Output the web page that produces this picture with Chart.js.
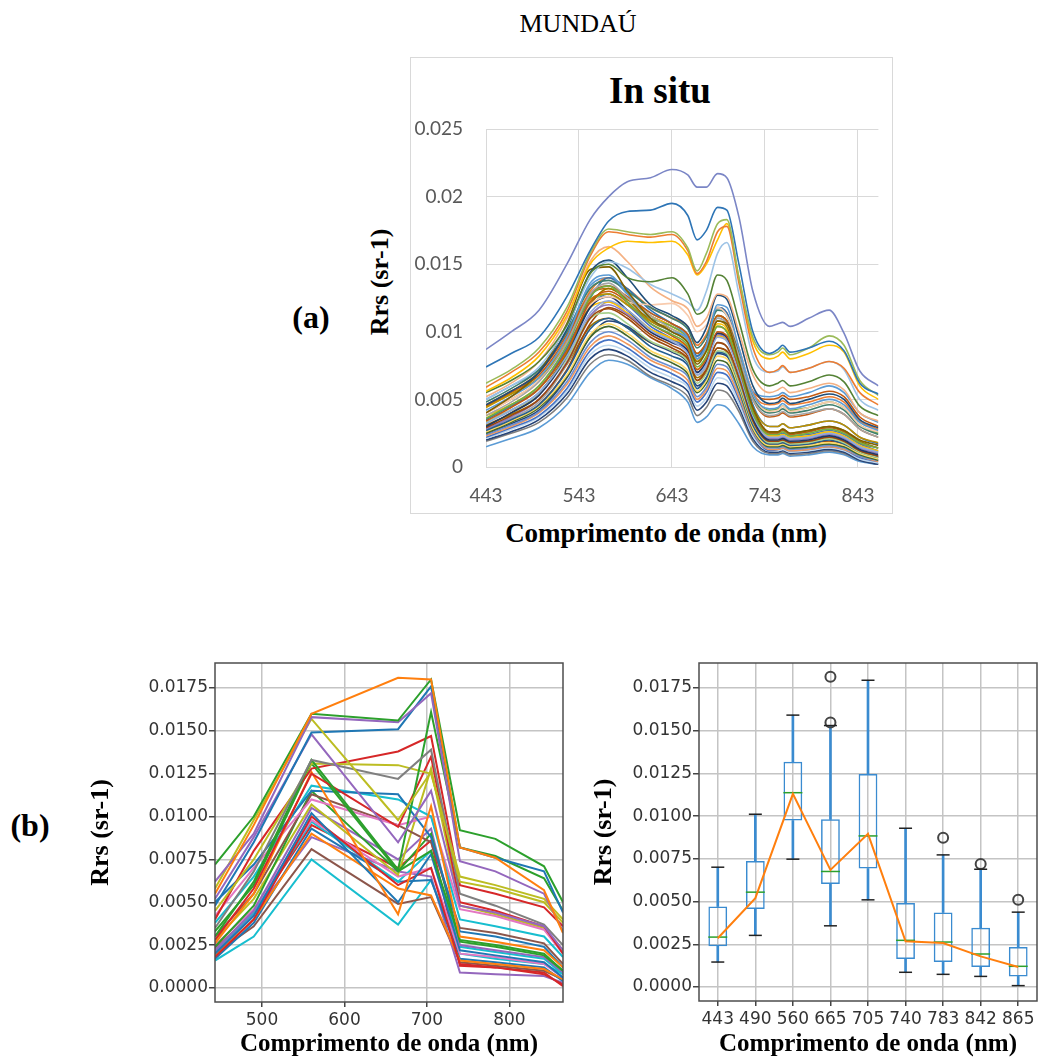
<!DOCTYPE html>
<html>
<head>
<meta charset="utf-8">
<title>MUNDAÚ - Rrs</title>
<script src="https://cdn.jsdelivr.net/npm/chart.js@4.4.1/dist/chart.umd.min.js"></script>
<style>
  html, body { margin: 0; padding: 0; background: #fff; }
  body { width: 1048px; height: 1063px; position: relative; overflow: hidden;
         font-family: 'Liberation Serif', 'Times New Roman', serif; }
  .txt { position: absolute; white-space: nowrap; color: #000; line-height: 1; }
  .bold { font-weight: bold; }
  .ctr { transform: translate(-50%, -50%); }
  .rot { transform: translate(-50%, -50%) rotate(-90deg); }
  canvas { position: absolute; }
  #boxA { position: absolute; left: 410px; top: 57px; width: 483px; height: 457px;
          border: 1px solid #d9d9d9; box-sizing: border-box; }
</style>
</head>
<body>
<div class="txt ctr" style="left:578px; top:24px; font-size:26px;">MUNDAÚ</div>

<div id="boxA"></div>
<div class="txt ctr bold" style="left:660px; top:90px; font-size:37px;">In situ</div>
<div class="txt ctr bold" style="left:311px; top:317px; font-size:32px;">(a)</div>
<div class="txt rot bold" style="left:380px; top:282px; font-size:26px;">Rrs (sr-1)</div>
<div class="txt ctr bold" style="left:666px; top:533px; font-size:27px;">Comprimento de onda (nm)</div>
<canvas id="chartA" width="481" height="455" style="left:411px; top:58px;"></canvas>

<div class="txt ctr bold" style="left:30px; top:825px; font-size:32px;">(b)</div>
<canvas id="chartB1" width="484" height="423" style="left:86px; top:640px;"></canvas>
<canvas id="chartB2" width="459" height="423" style="left:589px; top:640px;"></canvas>

<script>
// ---------- (a) In situ spectra, values in 1e-4 sr-1 ----------
const insituWl = [443, 470, 500, 530, 555, 575, 595, 620, 643, 660, 670, 680, 692, 702, 715, 730, 748, 757, 762, 770, 790, 812, 828, 845, 865];
const insituXTicks = [443, 543, 643, 743, 843];
const insituYTicks = [0, 0.005, 0.01, 0.015, 0.02, 0.025];

const insituSeries = [
  [87, 100, 116, 150, 183, 200, 211, 214, 220, 216, 207, 207, 217, 214, 185, 130, 104, 106, 107, 104, 110, 116, 99, 71, 60],
  [74, 84, 96, 126, 160, 182, 189, 190, 195, 186, 168, 175, 192, 190, 150, 100, 84, 87, 90, 85, 88, 93, 86, 62, 54],
  [62, 72, 88, 118, 158, 176, 174, 172, 174, 162, 145, 158, 180, 183, 140, 96, 83, 85, 88, 83, 88, 97, 90, 64, 53],
  [59, 70, 85, 115, 156, 174, 172, 170, 172, 160, 143, 152, 174, 178, 136, 88, 70, 72, 75, 70, 73, 78, 73, 55, 46],
  [56, 66, 82, 112, 150, 162, 167, 166, 167, 157, 142, 150, 168, 180, 140, 93, 80, 82, 85, 80, 84, 90, 85, 60, 50],
  [55, 64, 78, 105, 143, 150, 140, 137, 140, 128, 113, 118, 142, 138, 108, 72, 60, 62, 64, 60, 63, 68, 63, 45, 38],
  [50, 60, 74, 104, 140, 152, 147, 135, 128, 122, 116, 130, 158, 166, 128, 82, 70, 71, 74, 70, 73, 78, 72, 50, 42],
  [52, 62, 78, 110, 152, 163, 152, 133, 123, 117, 104, 110, 128, 126, 100, 68, 55, 57, 59, 55, 58, 62, 57, 40, 34],
  [46, 56, 70, 102, 144, 153, 140, 120, 112, 104, 92, 103, 127, 124, 96, 60, 47, 48, 51, 47, 50, 54, 50, 35, 29],
  [40, 52, 70, 106, 146, 148, 130, 110, 100, 92, 76, 86, 108, 106, 78, 44, 26, 26, 28, 25, 27, 30, 27, 20, 16],
  [42, 52, 66, 96, 136, 142, 128, 110, 100, 95, 80, 90, 120, 118, 88, 54, 43, 44, 47, 43, 46, 50, 46, 33, 27],
  [38, 48, 63, 92, 128, 136, 125, 112, 102, 94, 80, 88, 110, 106, 82, 50, 38, 39, 41, 38, 40, 43, 39, 28, 22],
  [36, 46, 60, 90, 126, 134, 122, 106, 98, 90, 74, 82, 104, 100, 75, 40, 24, 24, 26, 23, 25, 28, 25, 18, 14],
  [34, 44, 58, 86, 122, 130, 122, 106, 97, 88, 72, 80, 100, 97, 73, 40, 25, 25, 27, 24, 26, 29, 26, 18, 14],
  [44, 54, 66, 92, 124, 128, 120, 108, 102, 94, 80, 86, 104, 100, 76, 44, 30, 30, 32, 29, 31, 34, 31, 22, 18],
  [32, 42, 55, 82, 114, 123, 116, 101, 93, 84, 68, 76, 96, 93, 70, 38, 22, 22, 23, 21, 22, 25, 22, 15, 11],
  [40, 50, 64, 92, 120, 126, 122, 120, 121, 112, 100, 105, 118, 112, 88, 54, 41, 42, 45, 41, 44, 48, 44, 31, 26],
  [30, 40, 53, 82, 118, 126, 116, 100, 92, 86, 70, 78, 99, 96, 70, 36, 20, 20, 21, 19, 20, 23, 20, 13, 9],
  [29, 38, 50, 77, 110, 117, 110, 96, 88, 80, 64, 72, 92, 89, 66, 34, 19, 19, 20, 18, 19, 22, 19, 12, 8],
  [33, 42, 54, 80, 110, 114, 106, 93, 86, 78, 62, 69, 86, 84, 62, 33, 18, 18, 19, 17, 18, 21, 18, 11, 7],
  [27, 35, 46, 71, 102, 110, 103, 89, 82, 75, 58, 66, 85, 83, 61, 31, 17, 17, 18, 16, 17, 20, 17, 11, 7],
  [26, 34, 45, 68, 98, 106, 99, 86, 79, 71, 56, 64, 82, 80, 59, 29, 16, 16, 17, 15, 16, 18, 16, 10, 6],
  [25, 33, 44, 67, 96, 104, 97, 84, 77, 69, 55, 62, 79, 77, 57, 28, 15, 15, 16, 14, 15, 17, 15, 9, 5],
  [24, 31, 41, 63, 92, 100, 94, 81, 74, 67, 52, 59, 76, 74, 55, 27, 14, 14, 15, 13, 14, 16, 14, 8, 5],
  [23, 30, 40, 61, 89, 97, 91, 79, 72, 64, 50, 57, 73, 71, 52, 26, 13, 13, 14, 12, 13, 15, 13, 8, 4],
  [22, 29, 38, 58, 86, 94, 88, 76, 69, 61, 48, 55, 70, 68, 50, 25, 12, 13, 14, 12, 13, 15, 13, 7, 4],
  [21, 28, 37, 56, 83, 90, 85, 73, 66, 59, 45, 51, 66, 64, 47, 23, 12, 12, 13, 11, 12, 14, 12, 6, 3],
  [20, 26, 35, 54, 80, 87, 82, 70, 63, 56, 42, 48, 62, 60, 44, 21, 11, 11, 12, 10, 11, 13, 11, 5, 2],
  [19, 25, 33, 51, 76, 83, 79, 67, 60, 52, 38, 44, 57, 55, 41, 19, 10, 10, 11, 9, 10, 12, 10, 5, 2],
  [15, 21, 29, 46, 70, 79, 76, 66, 58, 48, 33, 37, 46, 44, 32, 15, 9, 9, 10, 8, 9, 11, 9, 4, 2],
  [48, 58, 72, 100, 132, 138, 130, 118, 110, 102, 88, 96, 116, 112, 86, 52, 40, 41, 43, 40, 42, 46, 42, 30, 24],
  [45, 55, 68, 96, 128, 134, 126, 114, 106, 98, 84, 92, 112, 108, 84, 50, 37, 38, 40, 37, 39, 43, 39, 28, 22],
  [35, 45, 58, 88, 125, 140, 132, 116, 106, 98, 82, 92, 118, 114, 84, 46, 30, 30, 32, 29, 31, 34, 31, 22, 17],
  [30, 40, 54, 84, 120, 132, 124, 108, 100, 92, 78, 86, 108, 104, 78, 42, 26, 26, 28, 25, 27, 30, 27, 19, 14],
  [28, 37, 50, 78, 112, 120, 113, 100, 92, 85, 70, 78, 98, 95, 70, 36, 21, 21, 22, 20, 21, 24, 21, 14, 10],
  [36, 46, 60, 88, 118, 122, 114, 102, 95, 88, 72, 80, 97, 94, 70, 38, 22, 22, 23, 21, 22, 25, 22, 15, 11],
  [40, 50, 64, 94, 130, 140, 132, 118, 110, 104, 90, 98, 118, 114, 88, 55, 46, 47, 49, 46, 48, 52, 48, 34, 28],
  [50, 60, 72, 100, 134, 140, 128, 114, 106, 96, 82, 90, 110, 106, 82, 56, 52, 53, 55, 52, 55, 60, 55, 40, 33],
  [45, 54, 66, 92, 122, 128, 120, 110, 104, 96, 84, 92, 112, 108, 84, 54, 42, 43, 45, 42, 44, 48, 44, 31, 25],
  [38, 46, 58, 86, 120, 132, 126, 112, 104, 95, 78, 86, 106, 102, 76, 40, 23, 23, 24, 22, 23, 26, 23, 16, 12],
  [33, 42, 55, 84, 118, 128, 120, 104, 95, 86, 70, 78, 98, 95, 71, 38, 24, 24, 25, 23, 24, 27, 24, 17, 12],
  [28, 36, 48, 76, 110, 122, 116, 102, 94, 86, 68, 74, 92, 89, 66, 33, 18, 18, 19, 17, 18, 21, 18, 12, 8],
  [26, 34, 46, 72, 106, 118, 112, 98, 90, 82, 64, 70, 88, 86, 63, 31, 17, 17, 18, 16, 17, 19, 17, 11, 7],
  [24, 32, 42, 66, 96, 108, 104, 92, 85, 77, 60, 66, 84, 82, 60, 29, 15, 15, 16, 14, 15, 17, 15, 9, 5],
  [31, 39, 50, 76, 104, 110, 103, 92, 86, 80, 66, 72, 88, 85, 63, 33, 19, 19, 20, 18, 19, 22, 19, 12, 8],
  [46, 56, 70, 98, 128, 132, 124, 112, 104, 96, 82, 90, 112, 108, 84, 56, 50, 51, 53, 50, 52, 56, 52, 37, 30]
];
const insituColors = [
  '#7b86c6', '#2e75b6', '#9bbb59', '#ed7d31', '#ffc000', '#548235', '#9dc3e6', '#f4b183', '#1f4e79', '#7f6000',
  '#5b9bd5', '#a5a5a5', '#70ad47', '#c55a11', '#bf9000', '#8faadc', '#f8cbad', '#203864', '#9e480e', '#a9d18e',
  '#255e91', '#ffd966', '#43682b', '#698ed0', '#f1975a', '#4472c4', '#bdd7ee', '#264478', '#7f7f7f', '#5b9bd5',
  '#3f7f6e', '#c55a11', '#2e75b6', '#997300', '#8e7cc3', '#ffc000', '#ed7d31', '#5b9bd5', '#70ad47', '#ffc000',
  '#4472c4', '#a5a5a5', '#9e480e', '#264478', '#997300', '#c55a11'
];

// ---------- (b) MSI bands, values in 1e-4 sr-1 ----------
const msiBands = [443, 490, 560, 665, 705, 740, 783, 842, 865];
const msiXTicks = [500, 600, 700, 800];
const msiYTicks = [0, 0.0025, 0.005, 0.0075, 0.01, 0.0125, 0.015, 0.0175];

const msiSeries = [
  [55, 95, 160, 181, 180, 82, 76, 57, 32],
  [72, 100, 160, 156, 180, 92, 87, 71, 50],
  [62, 90, 158, 155, 172, 74, 68, 55, 33],
  [58, 98, 157, 98, 126, 62, 58, 50, 38],
  [48, 85, 149, 151, 176, 82, 76, 68, 44],
  [52, 88, 148, 85, 115, 48, 44, 36, 22],
  [35, 68, 133, 122, 139, 55, 48, 37, 25],
  [30, 62, 133, 69, 161, 82, 77, 64, 45],
  [45, 75, 131, 130, 125, 65, 60, 52, 40],
  [40, 80, 128, 138, 147, 60, 55, 47, 36],
  [28, 58, 125, 94, 135, 50, 45, 36, 20],
  [26, 55, 126, 43, 106, 30, 27, 22, 12],
  [33, 60, 131, 68, 80, 28, 25, 20, 10],
  [50, 72, 115, 113, 88, 33, 30, 24, 12],
  [38, 65, 118, 110, 100, 40, 36, 30, 18],
  [42, 70, 110, 95, 100, 46, 42, 34, 20],
  [30, 55, 113, 95, 85, 35, 32, 26, 14],
  [24, 48, 115, 68, 90, 27, 24, 19, 10],
  [28, 52, 107, 66, 128, 48, 43, 35, 22],
  [22, 45, 105, 75, 93, 25, 22, 18, 9],
  [20, 42, 102, 50, 78, 22, 19, 15, 6],
  [18, 40, 100, 60, 70, 14, 12, 8, 2],
  [25, 46, 98, 65, 70, 20, 18, 14, 6],
  [22, 44, 97, 62, 80, 24, 21, 17, 8],
  [19, 40, 90, 58, 54, 16, 14, 11, 5],
  [17, 38, 93, 62, 63, 17, 15, 12, 4],
  [21, 43, 88, 68, 65, 9, 8, 7, 3],
  [20, 36, 81, 49, 53, 15, 13, 10, 5],
  [16, 30, 75, 37, 63, 20, 17, 14, 8],
  [23, 44, 95, 70, 86, 13, 12, 9, 1]
];
const msiColors = [
  '#ff7f0e', '#2ca02c', '#9467bd', '#bcbd22', '#1f77b4', '#9467bd', '#7f7f7f', '#2ca02c', '#bcbd22', '#d62728',
  '#d62728', '#ff7f0e', '#2ca02c', '#1f77b4', '#17becf', '#e377c2', '#8c564b', '#2ca02c', '#bcbd22', '#9467bd',
  '#1f77b4', '#d62728', '#e377c2', '#17becf', '#ff7f0e', '#1f77b4', '#9467bd', '#8c564b', '#17becf', '#d62728'
];

// ---------- (b) boxplot statistics per band ----------
const boxBands = ['443', '490', '560', '665', '705', '740', '783', '842', '865'];
const whiskLow = [0.00146, 0.00302, 0.00748, 0.00358, 0.00510, 0.00086, 0.00074, 0.00062, 0.00008];
const quart1   = [0.00238, 0.00456, 0.00974, 0.00602, 0.00693, 0.00164, 0.00146, 0.00117, 0.00062];
const medians  = [0.00292, 0.00555, 0.01137, 0.00676, 0.00884, 0.00273, 0.00263, 0.00193, 0.00121];
const quart3   = [0.00471, 0.00738, 0.01318, 0.00981, 0.01246, 0.00491, 0.00436, 0.00347, 0.00234];
const whiskHigh = [0.00701, 0.01011, 0.01591, 0.01530, 0.01795, 0.00929, 0.00773, 0.00689, 0.00438];
const outlierBands = ['665', '665', '783', '842', '865'];
const outlierVals  = [0.01815, 0.01548, 0.00874, 0.00720, 0.00510];
const trendLine = [0.00285, 0.00520, 0.01130, 0.00685, 0.00896, 0.00267, 0.00257, 0.00179, 0.00117];

const serifBold = { family: "'Liberation Serif', 'Times New Roman', serif", size: 26, weight: 'bold' };
const tickFontB = { family: "'DejaVu Sans', sans-serif", size: 17 };

// frame around the plot area (matplotlib style spines)
const framePlugin = {
  id: 'frame',
  afterDraw(chart) {
    const { ctx, chartArea: a } = chart;
    ctx.save();
    ctx.strokeStyle = '#4d4d4d';
    ctx.lineWidth = 1.5;
    ctx.strokeRect(a.left, a.top, a.right - a.left, a.bottom - a.top);
    ctx.restore();
  }
};

function fixedTicks(list) {
  return scale => { scale.ticks = list.map(v => ({ value: v })); };
}

function createInsituChart() {
  return new Chart(document.getElementById('chartA'), {
    type: 'line',
    data: {
      datasets: insituSeries.map((s, i) => ({
        data: s.map((v, j) => ({ x: insituWl[j], y: v / 1e4 })),
        borderColor: insituColors[i],
        borderWidth: 1.6,
        pointRadius: 0,
        cubicInterpolationMode: 'monotone',
        fill: false
      }))
    },
    options: {
      responsive: false,
      animation: false,
      layout: { padding: { top: 71, right: 10, left: 0, bottom: 0 } },
      plugins: { legend: { display: false }, tooltip: { enabled: false } },
      scales: {
        x: {
          type: 'linear', min: 443, max: 865,
          afterBuildTicks: fixedTicks(insituXTicks),
          afterFit: s => { s.height = 46; },
          grid: { color: '#d9d9d9', drawTicks: false },
          border: { color: '#d9d9d9' },
          ticks: { padding: 17, maxRotation: 0, color: '#595959', font: { family: 'Lato', size: 19 } }
        },
        y: {
          min: 0, max: 0.025,
          afterBuildTicks: fixedTicks(insituYTicks),
          afterFit: s => { s.width = 75; },
          grid: { color: '#d9d9d9', drawTicks: false },
          border: { color: '#d9d9d9' },
          ticks: {
            padding: 23, color: '#595959', font: { family: 'Lato', size: 19 },
            callback: v => String(parseFloat(v.toFixed(3)))
          }
        }
      }
    }
  });
}

function msiYScale(width) {
  return {
    min: -0.00082, max: 0.01896,
    afterBuildTicks: fixedTicks(msiYTicks),
    afterFit: s => { s.width = width; },
    grid: { color: '#c4c4c4', lineWidth: 1.5, tickLength: 6, tickColor: '#444' },
    border: { display: false },
    ticks: { padding: 1, color: '#333', font: tickFontB, callback: v => v.toFixed(4) },
    title: { display: true, text: 'Rrs (sr-1)', color: '#000', font: serifBold, padding: { top: 0, bottom: 0 } }
  };
}

const xTitleB = {
  display: true, text: 'Comprimento de onda (nm)', color: '#000',
  font: { ...serifBold, size: 25 }, padding: { top: 0, bottom: 3 }
};

function createMsiLines() {
  return new Chart(document.getElementById('chartB1'), {
    type: 'line',
    data: {
      datasets: msiSeries.map((s, i) => ({
        data: s.map((v, j) => ({ x: msiBands[j], y: v / 1e4 })),
        borderColor: msiColors[i],
        borderWidth: 2,
        pointRadius: 0,
        tension: 0
      }))
    },
    options: {
      responsive: false,
      animation: false,
      layout: { padding: { top: 23, right: 7, left: 0, bottom: 0 } },
      plugins: { legend: { display: false }, tooltip: { enabled: false } },
      scales: {
        x: {
          type: 'linear', min: 443, max: 865,
          afterBuildTicks: fixedTicks(msiXTicks),
          afterFit: s => { s.height = 61; },
          grid: { color: '#c4c4c4', lineWidth: 1.5, tickLength: 5, tickColor: '#444' },
          border: { display: false },
          ticks: { padding: 3, maxRotation: 0, color: '#333', font: tickFontB },
          title: xTitleB
        },
        y: msiYScale(129)
      }
    },
    plugins: [framePlugin]
  });
}

function createBoxplot() {
  const boxBlue = '#3a8bd0';
  return new Chart(document.getElementById('chartB2'), {
    type: 'bar',
    data: {
      labels: boxBands,
      datasets: [
        { type: 'line', data: trendLine, borderColor: '#ff7f0e', borderWidth: 2, pointRadius: 0, tension: 0, order: 0 },
        { type: 'line', data: medians, showLine: false, pointStyle: 'line', pointRadius: 9.5,
          pointBorderColor: '#2ca02c', pointBorderWidth: 1.5, order: 1 },
        { type: 'line', data: whiskHigh, showLine: false, pointStyle: 'line', pointRadius: 6.5,
          pointBorderColor: '#222', pointBorderWidth: 1.5, order: 2 },
        { type: 'line', data: whiskLow, showLine: false, pointStyle: 'line', pointRadius: 6.5,
          pointBorderColor: '#222', pointBorderWidth: 1.5, order: 2 },
        { type: 'line', data: outlierBands.map((b, i) => ({ x: b, y: outlierVals[i] })), showLine: false,
          pointStyle: 'circle', pointRadius: 5, pointBackgroundColor: 'rgba(0,0,0,0)',
          pointBorderColor: '#444', pointBorderWidth: 2, order: 2 },
        { data: boxBands.map((b, i) => [quart1[i], quart3[i]]), backgroundColor: 'rgba(0,0,0,0)',
          borderColor: boxBlue, borderWidth: 1.5, borderSkipped: false,
          barPercentage: 0.5, categoryPercentage: 1, grouped: false, order: 3 },
        { data: boxBands.map((b, i) => [quart3[i], whiskHigh[i]]), backgroundColor: boxBlue,
          borderWidth: 0, barThickness: 2, grouped: false, order: 4 },
        { data: boxBands.map((b, i) => [whiskLow[i], quart1[i]]), backgroundColor: boxBlue,
          borderWidth: 0, barThickness: 2, grouped: false, order: 4 }
      ]
    },
    options: {
      responsive: false,
      animation: false,
      layout: { padding: { top: 23, right: 1, left: 0, bottom: 0 } },
      plugins: { legend: { display: false }, tooltip: { enabled: false } },
      scales: {
        x: {
          type: 'category', offset: true,
          afterFit: s => { s.height = 62; },
          grid: { offset: false, color: '#c4c4c4', lineWidth: 1.5, tickLength: 5, tickColor: '#444' },
          border: { display: false },
          ticks: { padding: 3, maxRotation: 0, autoSkip: false, color: '#333', font: tickFontB },
          title: xTitleB
        },
        y: msiYScale(110)
      }
    },
    plugins: [framePlugin]
  });
}

document.addEventListener('DOMContentLoaded', () => {
  createInsituChart();
  createMsiLines();
  createBoxplot();
});
</script>
</body>
</html>
